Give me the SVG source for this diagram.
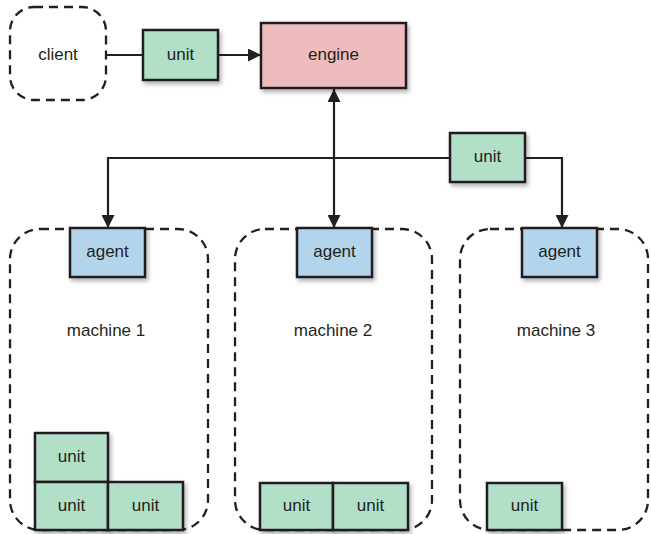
<svg xmlns="http://www.w3.org/2000/svg" width="651" height="534" viewBox="0 0 651 534">
<style>
text{font-family:"Liberation Sans",Arial,sans-serif;font-size:17px;fill:#231f20;text-anchor:middle;dominant-baseline:central}
.box{stroke:#231f20;stroke-width:2.5}
.unit{fill:#b2dfc8}
.agent{fill:#b3d5eb}
.engine{fill:#efbcbe}
.dash{fill:none;stroke:#231f20;stroke-width:2.3;stroke-dasharray:9 6}
.edge{fill:none;stroke:#231f20;stroke-width:2.2}
</style>
<defs>
<filter id="sh" x="-20%" y="-20%" width="150%" height="160%">
<feDropShadow dx="2" dy="3" stdDeviation="2" flood-color="#000" flood-opacity="0.3"/>
</filter>
<marker id="ah" viewBox="0 0 13 13" refX="13" refY="6.5" markerWidth="13" markerHeight="13" markerUnits="userSpaceOnUse" orient="auto-start-reverse">
<path d="M0,0 L13,6.5 L0,13 z" fill="#231f20"/>
</marker>
</defs>

<g id="machine1">
<rect class="dash" x="10" y="229" width="198" height="301" rx="30"/>
<text x="106" y="330">machine 1</text>
</g>
<g id="machine2">
<rect class="dash" x="235" y="229" width="197" height="301" rx="30"/>
<text x="333" y="330">machine 2</text>
</g>
<g id="machine3">
<rect class="dash" x="460" y="229" width="188" height="301" rx="30"/>
<text x="556" y="330">machine 3</text>
</g>

<g id="connectors">
<line class="edge" x1="107" y1="55" x2="143" y2="55"/>
<line class="edge" x1="218" y1="55" x2="261" y2="55" marker-end="url(#ah)"/>
<line class="edge" x1="334" y1="89" x2="334" y2="228" marker-start="url(#ah)" marker-end="url(#ah)"/>
<polyline class="edge" points="450,158 108,158 108,228" marker-end="url(#ah)"/>
<polyline class="edge" points="525,158 562,158 562,228" marker-end="url(#ah)"/>
</g>

<g id="client">
<rect class="dash" x="10" y="7" width="96" height="93" rx="24"/>
<text x="58" y="54">client</text>
</g>
<g id="unit-top">
<rect class="box unit" x="143" y="30" width="75" height="50" filter="url(#sh)"/>
<text x="180.5" y="54">unit</text>
</g>
<g id="engine">
<rect class="box engine" x="261" y="23" width="145" height="65" filter="url(#sh)"/>
<text x="333.5" y="54">engine</text>
</g>
<g id="unit-mid">
<rect class="box unit" x="450" y="133" width="75" height="49" filter="url(#sh)"/>
<text x="487.5" y="156">unit</text>
</g>

<g id="agent1">
<rect class="box agent" x="70" y="228" width="75" height="49" filter="url(#sh)"/>
<text x="107.5" y="251">agent</text>
</g>
<g id="agent2">
<rect class="box agent" x="297" y="228" width="75" height="49" filter="url(#sh)"/>
<text x="334.5" y="251">agent</text>
</g>
<g id="agent3">
<rect class="box agent" x="522" y="228" width="75" height="49" filter="url(#sh)"/>
<text x="559.5" y="251">agent</text>
</g>

<g id="m1-unit-a">
<rect class="box unit" x="35" y="433" width="73" height="49" filter="url(#sh)"/>
<text x="71.5" y="456">unit</text>
</g>
<g id="m1-unit-b">
<rect class="box unit" x="35" y="482" width="73" height="48" filter="url(#sh)"/>
<text x="71.5" y="505">unit</text>
</g>
<g id="m1-unit-c">
<rect class="box unit" x="108" y="482" width="75" height="48" filter="url(#sh)"/>
<text x="145.5" y="505">unit</text>
</g>
<g id="m2-unit-a">
<rect class="box unit" x="260" y="483" width="73" height="47" filter="url(#sh)"/>
<text x="296.5" y="505">unit</text>
</g>
<g id="m2-unit-b">
<rect class="box unit" x="333" y="483" width="75" height="47" filter="url(#sh)"/>
<text x="370.5" y="505">unit</text>
</g>
<g id="m3-unit">
<rect class="box unit" x="487" y="483" width="75" height="47" filter="url(#sh)"/>
<text x="524.5" y="505">unit</text>
</g>
</svg>
